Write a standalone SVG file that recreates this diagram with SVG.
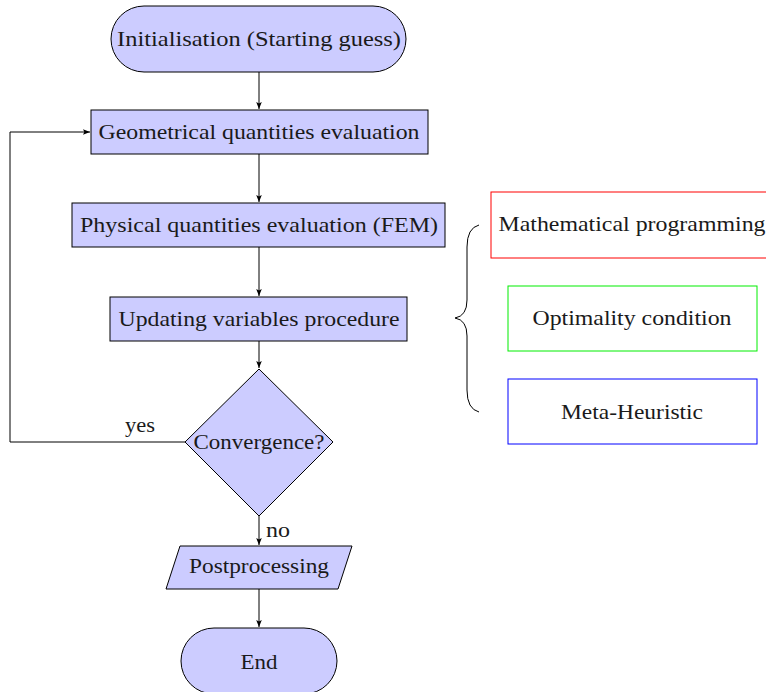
<svg xmlns="http://www.w3.org/2000/svg" width="766" height="692" viewBox="0 0 766 692" font-family="Liberation Serif, serif">
<style>
.n{fill:#ccccff;stroke:#000;stroke-width:1}
.t{font-size:21px;fill:#1a1a1a;text-anchor:middle}
.c{fill:none;stroke:#000;stroke-width:1}
.o{fill:none;stroke-width:1}
</style>
<defs>
<marker id="a" viewBox="0 0 10 10" refX="10" refY="5" markerWidth="7" markerHeight="7" markerUnits="userSpaceOnUse" orient="auto">
<path d="M0,1 L10,5 L0,9 L2,5 Z" fill="#000"/>
</marker>
</defs>
<rect width="766" height="692" fill="#fff"/>
<g id="connectors">
<line class="c" x1="259" y1="72" x2="259" y2="109" marker-end="url(#a)"/>
<line class="c" x1="259" y1="154" x2="259" y2="202" marker-end="url(#a)"/>
<line class="c" x1="259" y1="247" x2="259" y2="296" marker-end="url(#a)"/>
<line class="c" x1="259" y1="341" x2="259" y2="368" marker-end="url(#a)"/>
<line class="c" x1="259" y1="516" x2="259" y2="545" marker-end="url(#a)"/>
<line class="c" x1="259" y1="589" x2="259" y2="627" marker-end="url(#a)"/>
<polyline class="c" points="185,442 10,442 10,132 90,132" marker-end="url(#a)"/>
<text class="t" font-family="Liberation Serif" x="140" y="432" textLength="30" lengthAdjust="spacingAndGlyphs">yes</text>
<text class="t" font-family="Liberation Serif" x="278" y="537" textLength="24" lengthAdjust="spacingAndGlyphs">no</text>
<path class="c" d="M479,225 Q467,228 467,247 L467,300 Q467,316 455,318 Q467,320 467,336 L467,390 Q467,409 479,412"/>
</g>
<g id="start">
<rect class="n" x="111" y="6" width="295" height="66" rx="33" ry="33"/>
<text class="t" font-family="Liberation Serif" x="259" y="46" textLength="284" lengthAdjust="spacingAndGlyphs">Initialisation (Starting guess)</text>
</g>
<g id="geometrical">
<rect class="n" x="91" y="110" width="337" height="44"/>
<text class="t" font-family="Liberation Serif" x="259" y="139" textLength="321" lengthAdjust="spacingAndGlyphs">Geometrical quantities evaluation</text>
</g>
<g id="physical">
<rect class="n" x="72" y="203" width="373" height="44"/>
<text class="t" font-family="Liberation Serif" x="259" y="232" textLength="358" lengthAdjust="spacingAndGlyphs">Physical quantities evaluation (FEM)</text>
</g>
<g id="updating">
<rect class="n" x="110" y="297" width="297" height="44"/>
<text class="t" font-family="Liberation Serif" x="259" y="326" textLength="281" lengthAdjust="spacingAndGlyphs">Updating variables procedure</text>
</g>
<g id="convergence">
<polygon class="n" points="259,369 333,442 259,516 185,442"/>
<text class="t" font-family="Liberation Serif" x="259" y="449" textLength="131" lengthAdjust="spacingAndGlyphs">Convergence?</text>
</g>
<g id="postprocessing">
<polygon class="n" points="180,546 352,546 338,589 166,589"/>
<text class="t" font-family="Liberation Serif" x="259" y="573" textLength="140" lengthAdjust="spacingAndGlyphs">Postprocessing</text>
</g>
<g id="end">
<rect class="n" x="181" y="628" width="156" height="66" rx="33" ry="33"/>
<text class="t" font-family="Liberation Serif" x="259" y="669" textLength="37" lengthAdjust="spacingAndGlyphs">End</text>
</g>
<g id="math">
<rect class="o" x="491" y="192" width="290" height="66" stroke="#ff0000"/>
<text class="t" font-family="Liberation Serif" x="632" y="231" textLength="267" lengthAdjust="spacingAndGlyphs">Mathematical programming</text>
</g>
<g id="optimality">
<rect class="o" x="508" y="286" width="249" height="65" stroke="#00ee00"/>
<text class="t" font-family="Liberation Serif" x="632" y="325" textLength="199" lengthAdjust="spacingAndGlyphs">Optimality condition</text>
</g>
<g id="meta">
<rect class="o" x="508" y="379" width="249" height="65" stroke="#0000ff"/>
<text class="t" font-family="Liberation Serif" x="632" y="419" textLength="142" lengthAdjust="spacingAndGlyphs">Meta-Heuristic</text>
</g>
</svg>
